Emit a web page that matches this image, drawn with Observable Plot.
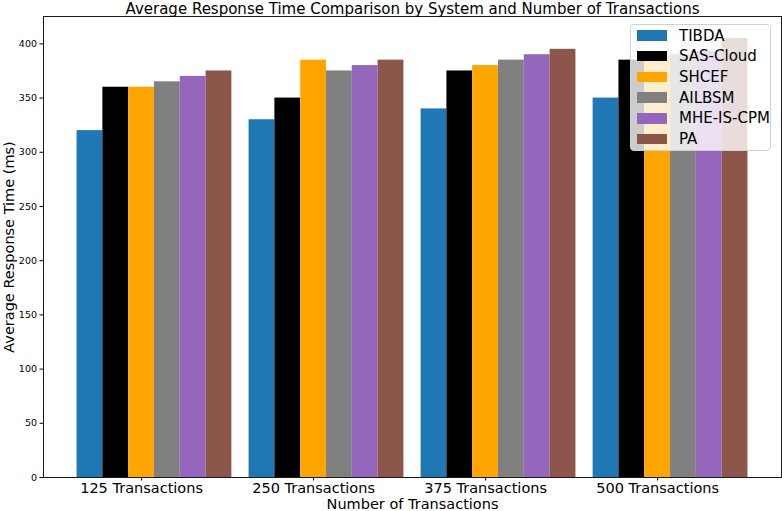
<!DOCTYPE html>
<html>
<head>
<meta charset="utf-8">
<script src="https://cdn.jsdelivr.net/npm/d3@7"></script>
<script src="https://cdn.jsdelivr.net/npm/@observablehq/plot@0.6"></script>
<style>
  html, body { margin: 0; padding: 0; background: #fff; }
  #wrap { position: relative; width: 782px; height: 511px; font-family: "DejaVu Sans", sans-serif; }
  #legend { position: absolute; left: 630px; top: 24px; width: 141px; height: 127px;
    background: rgba(255,255,255,0.8); border: 1px solid #d0d0d0; border-radius: 4px; box-sizing: border-box; }
  .row { position: absolute; left: 6px; height: 20px; display: flex; align-items: center; font-size: 15px; color: #000; }
  .sw { width: 30px; height: 10.5px; margin-right: 12px; }
</style>
</head>
<body>
<div id="wrap"><div id="legend"></div></div>
<script>
const groups = ["125 Transactions", "250 Transactions", "375 Transactions", "500 Transactions"];
const systems = ["TIBDA", "SAS-Cloud", "SHCEF", "AILBSM", "MHE-IS-CPM", "PA"];
const colors = ["#1f77b4", "#000000", "#ffa500", "#808080", "#9467bd", "#8c564b"];
const TIBDA = [320, 330, 340, 350];
const SAS_Cloud = [360, 350, 375, 385];
const SHCEF = [360, 385, 380, 388];
const AILBSM = [365, 375, 385, 390];
const MHE_IS_CPM = [370, 380, 390, 393];
const PA = [375, 385, 395, 405];
const yTicks = [0, 50, 100, 150, 200, 250, 300, 350, 400];
const title = "Average Response Time Comparison by System and Number of Transactions";

const series = [TIBDA, SAS_Cloud, SHCEF, AILBSM, MHE_IS_CPM, PA];
const barW = 0.15;
const rows = [];
series.forEach((vals, si) => vals.forEach((v, gi) => rows.push({group: groups[gi], gi, system: systems[si], si, value: v})));

const chart = Plot.plot({
  width: 782,
  height: 511,
  marginTop: 16,
  marginBottom: 34,
  marginLeft: 43,
  marginRight: 1,
  style: { fontFamily: "DejaVu Sans, sans-serif", background: "#fff", overflow: "visible" },
  x: { type: "linear", domain: [-0.27, 4.02] },
  y: { domain: [0, 425.25] },
  color: { domain: systems, range: colors },
  marks: [
    Plot.rect(rows, {
      x1: d => d.gi + d.si * barW - barW / 2,
      x2: d => d.gi + d.si * barW + barW / 2,
      y1: 0, y2: "value", fill: "system"
    }),
    Plot.axisY({ ticks: yTicks, tickSize: 3.5, tickPadding: 3, fontSize: 9.5, color: "#000",
      label: "Average Response Time (ms)", labelAnchor: "center", labelArrow: "none", labelOffset: 40 }),
    Plot.axisX({ ticks: groups.map((g, i) => i + 2 * barW), tickFormat: d => groups[Math.round(d - 2 * barW)],
      tickSize: 3.5, tickPadding: 2, fontSize: 14.5, color: "#000",
      label: "Number of Transactions", labelAnchor: "center", labelArrow: "none", labelOffset: 31 }),
    Plot.frame({ stroke: "#000", strokeWidth: 0.9 }),
    Plot.text([title], { frameAnchor: "top", dy: -13, fontSize: 15, fill: "#000" })
  ]
});
chart.querySelectorAll("g[aria-label='y-axis label'], g[aria-label='x-axis label']").forEach(g => g.setAttribute("font-size", "14.5"));
document.getElementById("wrap").prepend(chart);

const legend = document.getElementById("legend");
systems.forEach((s, i) => {
  const r = document.createElement("div");
  r.className = "row";
  r.style.top = (0.5 + i * 20.7) + "px";
  r.innerHTML = `<span class="sw" style="background:${colors[i]}"></span><span>${s}</span>`;
  legend.appendChild(r);
});
</script>
</body>
</html>
